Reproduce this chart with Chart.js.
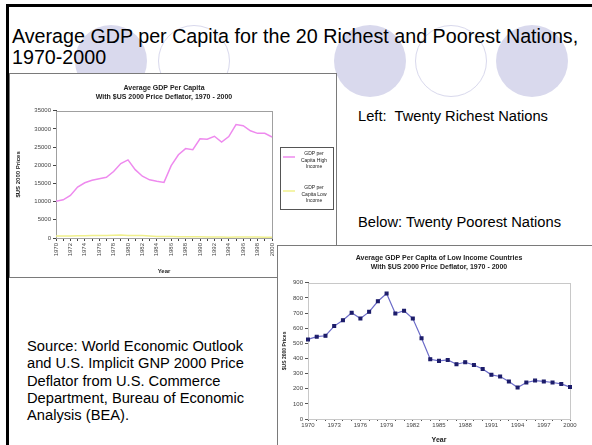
<!DOCTYPE html>
<html>
<head>
<meta charset="utf-8">
<script src="https://cdn.jsdelivr.net/npm/chart.js@4.4.0/dist/chart.umd.min.js"></script>
<style>
  body { margin: 0; width: 592px; height: 445px; overflow: hidden; background: #fff; position: relative;
         font-family: "Liberation Sans", Arial, sans-serif; color: #000; }
  .circle { position: absolute; top: 25px; width: 72px; height: 72px; border-radius: 50%; box-sizing: border-box; }
  .filled { background: #d9d9ed; }
  .ring { border: 1.5px solid #d9d9ed; }
  .txt { position: absolute; white-space: nowrap; }
  .box { position: absolute; background: #fff; border: 1px solid #7a7a7a; box-sizing: border-box; }
  .box canvas { display: block; }
</style>
</head>
<body>
<div style="position:absolute;left:6px;top:4px;width:586px;height:3px;background:#000"></div>
<div style="position:absolute;left:6px;top:4px;width:3px;height:441px;background:#000"></div>

<div class="circle filled" style="left:75px"></div>
<div class="circle ring" style="left:158px"></div>
<div class="circle filled" style="left:334px"></div>
<div class="circle ring" style="left:415px"></div>
<div class="circle filled" style="left:496px"></div>

<div class="txt" style="left:12px;top:26px;font-size:19.7px;line-height:21px">Average GDP per Capita for the 20 Richest and Poorest Nations,<br>1970-2000</div>

<div class="box" style="left:9px;top:73px;width:328px;height:205px"><canvas id="rich" width="326" height="203"></canvas></div>

<div class="txt" style="left:358px;top:108px;font-size:14.7px">Left:&nbsp; Twenty Richest Nations</div>
<div class="txt" style="left:358px;top:214px;font-size:14.7px">Below: Twenty Poorest Nations</div>

<div class="txt" style="left:27px;top:338px;font-size:14.7px;line-height:17.3px">Source: World Economic Outlook<br>and U.S. Implicit GNP 2000 Price<br>Deflator from U.S. Commerce<br>Department, Bureau of Economic<br>Analysis (BEA).</div>

<div class="box" style="left:277px;top:245px;width:320px;height:210px"><canvas id="poor" width="314" height="199"></canvas></div>

<script>
// values
var years = [1970, 1971, 1972, 1973, 1974, 1975, 1976, 1977, 1978, 1979,
             1980, 1981, 1982, 1983, 1984, 1985, 1986, 1987, 1988, 1989,
             1990, 1991, 1992, 1993, 1994, 1995, 1996, 1997, 1998, 1999, 2000];
var highIncome = [10100, 10500, 11700, 14000, 15200, 15900, 16300, 16700, 18300, 20500,
                  21500, 18800, 17000, 16000, 15600, 15300, 19900, 22900, 24600, 24300,
                  27300, 27200, 28000, 26400, 27900, 31200, 30900, 29500, 28800, 28800, 27800];
var lowIncome = [526, 544, 550, 614, 653, 702, 664, 708, 778, 829,
                 697, 715, 664, 533, 395, 384, 390, 362, 375, 357,
                 331, 292, 281, 248, 208, 241, 254, 248, 241, 232, 211];
var richTitle = ['Average GDP Per Capita', 'With $US 2000 Price Deflator, 1970 - 2000'];
var poorTitle = ['Average GDP Per Capita of Low Income Countries', 'With $US 2000 Price Deflator, 1970 - 2000'];
var seriesNames = ['GDP per Capita High Income', 'GDP per Capita Low Income'];

var FONT = '"Liberation Sans", Arial, sans-serif';
Chart.defaults.font.family = FONT;
Chart.defaults.color = '#222';

// grey frame round the plot area, like excel
var frame = {
    id: 'frame',
    beforeDatasetsDraw: function (chart, args, opts) {
        var a = chart.chartArea, ctx = chart.ctx;
        ctx.save();
        ctx.strokeStyle = opts.color;
        ctx.lineWidth = 1;
        ctx.strokeRect(Math.round(a.left) + 0.5, Math.round(a.top) + 0.5, Math.round(a.right - a.left), Math.round(a.bottom - a.top));
        ctx.restore();
    }
};

// boxed legend with wrapped labels
var boxLegend = {
    id: 'boxLegend',
    afterDraw: function (chart, args, o) {
        var ctx = chart.ctx;
        ctx.save();
        ctx.strokeStyle = '#555';
        ctx.lineWidth = 1;
        ctx.strokeRect(o.x + 0.5, o.y + 0.5, o.w, o.h);
        ctx.font = '5px ' + FONT;
        ctx.fillStyle = '#222';
        ctx.textAlign = 'center';
        ctx.textBaseline = 'middle';
        chart.data.datasets.forEach(function (ds, i) {
            var y0 = o.y + o.rows[i];
            ctx.strokeStyle = ds.borderColor;
            ctx.lineWidth = 1.5;
            ctx.beginPath();
            ctx.moveTo(o.x + 3, y0 + 3);
            ctx.lineTo(o.x + 15, y0 + 3);
            ctx.stroke();
            var words = ds.label.split(' ');
            var lines = [words[0] + ' ' + words[1], words[2] + ' ' + words[3], words.slice(4).join(' ')];
            lines.forEach(function (l, j) {
                ctx.fillText(l, o.x + 34, y0 + j * 6.5);
            });
        });
        ctx.restore();
    }
};

new Chart(document.getElementById('rich'), {
    type: 'line',
    data: {
        labels: years,
        datasets: [
            { label: seriesNames[0], data: highIncome, borderColor: '#ee8aee', borderWidth: 1.5, pointRadius: 0, tension: 0 },
            { label: seriesNames[1], data: lowIncome, borderColor: '#f0f08c', borderWidth: 1.5, pointRadius: 0, tension: 0 }
        ]
    },
    options: {
        responsive: false,
        animation: false,
        layout: { padding: { left: 4, right: 64, top: 6, bottom: 2 } },
        plugins: {
            legend: { display: false },
            tooltip: { enabled: false },
            title: { display: true, fullSize: false, text: richTitle, color: '#222',
                     font: { size: 7, weight: 'bold' }, padding: { top: 4, bottom: 10 } },
            frame: { color: '#a0a0a0' },
            boxLegend: { x: 270, y: 73, w: 53, h: 62, rows: [7, 41] }
        },
        scales: {
            x: {
                offset: false,
                grid: { drawOnChartArea: false, tickLength: 3, color: '#444' },
                border: { color: '#444' },
                ticks: { autoSkip: false, minRotation: 90, maxRotation: 90, font: { size: 6 }, color: '#444', padding: 2,
                         callback: function (v, i) { return i % 2 === 0 ? years[i] : ''; } },
                title: { display: true, text: 'Year', font: { size: 6, weight: 'bold' }, padding: { top: 0, bottom: 0 } },
                afterFit: function (s) { s.height = 37; }
            },
            y: {
                min: 0, max: 35000,
                grid: { drawOnChartArea: false, tickLength: 3, color: '#444' },
                border: { color: '#444' },
                ticks: { stepSize: 5000, font: { size: 6 }, color: '#444', padding: 2,
                         callback: function (v) { return String(v); } },
                title: { display: true, text: '$US 2000 Prices', font: { size: 6, weight: 'bold' }, padding: 1 },
                afterFit: function (s) { s.width = 42; }
            }
        }
    },
    plugins: [frame, boxLegend]
});

new Chart(document.getElementById('poor'), {
    type: 'line',
    data: {
        labels: years,
        datasets: [
            { label: seriesNames[1], data: lowIncome, borderColor: '#6c6cc8', borderWidth: 1.2, tension: 0,
              pointStyle: 'rect', pointRadius: 2, pointBackgroundColor: '#1c1c6a', pointBorderColor: '#1c1c6a' }
        ]
    },
    options: {
        responsive: false,
        animation: false,
        layout: { padding: { left: 3, right: 22, top: 4, bottom: 1 } },
        plugins: {
            legend: { display: false },
            tooltip: { enabled: false },
            title: { display: true, fullSize: false, text: poorTitle, color: '#222',
                     font: { size: 7, weight: 'bold' }, padding: { top: 4, bottom: 12 } },
            frame: { color: '#c8c8c8' }
        },
        scales: {
            x: {
                offset: false,
                grid: { drawOnChartArea: false, tickLength: 2, color: '#555' },
                border: { color: '#555' },
                ticks: { autoSkip: false, maxRotation: 0, font: { size: 6 }, color: '#444', padding: 1,
                         callback: function (v, i) { return i % 3 === 0 ? years[i] : ''; } },
                title: { display: true, text: 'Year', font: { size: 7, weight: 'bold' }, padding: { top: 0, bottom: 0 } },
                afterFit: function (s) { s.height = 25; }
            },
            y: {
                min: 0, max: 900,
                grid: { drawOnChartArea: false, tickLength: 3, color: '#555' },
                border: { color: '#555' },
                ticks: { stepSize: 100, font: { size: 6 }, color: '#444', padding: 2 },
                title: { display: true, text: '$US 2000 Prices', font: { size: 5, weight: 'bold' }, padding: 1 },
                afterFit: function (s) { s.width = 27; }
            }
        }
    },
    plugins: [frame]
});
</script>
</body>
</html>
